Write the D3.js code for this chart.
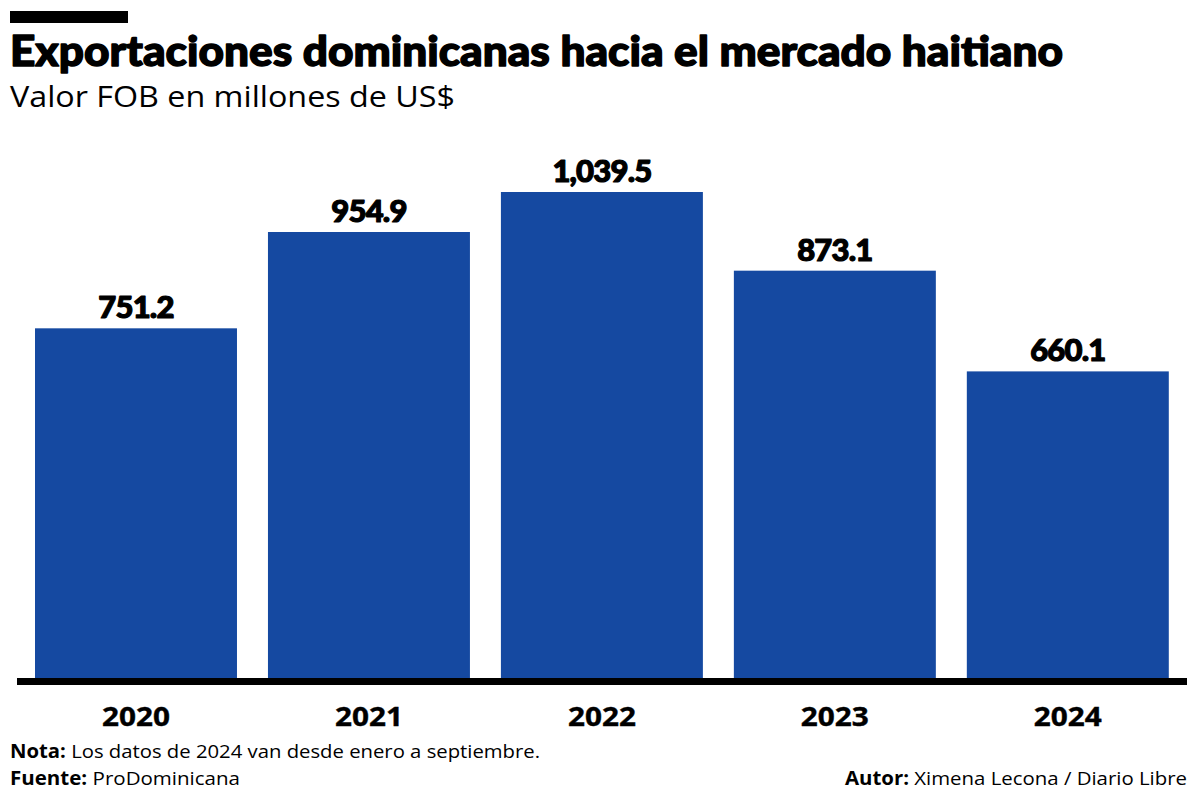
<!DOCTYPE html>
<html>
<head>
<meta charset="utf-8">
<script src="https://cdn.jsdelivr.net/npm/d3@7"></script>
<style>
  html, body { margin: 0; padding: 0; background: #fff; }
  svg { display: block; }
</style>
</head>
<body>
<svg id="chart" width="1200" height="802"></svg>
<script>
const years = ["2020", "2021", "2022", "2023", "2024"];
const values = [751.2, 954.9, 1039.5, 873.1, 660.1];
const valueLabels = ["751.2", "954.9", "1,039.5", "873.1", "660.1"];
const title = "Exportaciones dominicanas hacia el mercado haitiano";
const subtitle = "Valor FOB en millones de US$";

const svg = d3.select("#chart");
const blue = "#1549a1";

// header bar
svg.append("rect").attr("x", 10).attr("y", 11).attr("width", 118).attr("height", 12).attr("fill", "#000");

svg.append("text")
  .attr("x", 10).attr("y", 66)
  .attr("font-family", "Lato, sans-serif").attr("font-weight", 900)
  .attr("font-size", 42).attr("fill", "#000")
  .attr("stroke", "#000").attr("stroke-width", 1.4).attr("stroke-linejoin", "round")
  .attr("textLength", 1053).attr("lengthAdjust", "spacingAndGlyphs")
  .text(title);

svg.append("text")
  .attr("x", 10).attr("y", 107)
  .attr("font-family", "'Open Sans', sans-serif").attr("font-weight", 400)
  .attr("font-size", 30).attr("fill", "#000")
  .attr("textLength", 445).attr("lengthAdjust", "spacingAndGlyphs")
  .text(subtitle);

const x = d3.scaleBand().domain(years).range([19.4, 1184.4]).paddingInner(0.133).paddingOuter(0.067);
const y = d3.scaleLinear().domain([0, 1039.5]).range([683.5, 192]);

svg.append("g").selectAll("rect").data(values).join("rect")
  .attr("x", (d, i) => x(years[i]))
  .attr("width", x.bandwidth())
  .attr("y", d => y(d))
  .attr("height", d => y(0) - y(d))
  .attr("fill", blue);

svg.append("g").selectAll("text").data(values).join("text")
  .attr("x", (d, i) => x(years[i]) + x.bandwidth() / 2)
  .attr("y", d => y(d) - 10)
  .attr("text-anchor", "middle")
  .attr("font-family", "Lato, sans-serif").attr("font-weight", 900)
  .attr("font-size", 31).attr("fill", "#000")
  .attr("stroke", "#000").attr("stroke-width", 1.2).attr("stroke-linejoin", "round")
  .attr("letter-spacing", -0.8)
  .text((d, i) => valueLabels[i]);

// baseline axis
const axis = d3.axisBottom(x).tickSize(0).tickPadding(0);
const gx = svg.append("g").attr("transform", "translate(0,681.5)").call(axis);
gx.select(".domain").remove();
gx.append("line").attr("x1", 17).attr("x2", 1187).attr("y1", 0).attr("y2", 0)
  .attr("stroke", "#000").attr("stroke-width", 7);
gx.selectAll(".tick text")
  .attr("y", 44).attr("dy", 0)
  .attr("font-family", "'Open Sans', sans-serif").attr("font-weight", 700)
  .attr("font-size", 27).attr("fill", "#000")
  .attr("stroke", "#000").attr("stroke-width", 0.4)
  .attr("textLength", 68).attr("lengthAdjust", "spacingAndGlyphs");

// footer
const f1 = svg.append("text").attr("x", 10).attr("y", 758)
  .attr("font-family", "'Open Sans', sans-serif").attr("font-size", 19).attr("fill", "#000")
  .attr("textLength", 530).attr("lengthAdjust", "spacingAndGlyphs");
f1.append("tspan").attr("font-weight", 700).text("Nota:");
f1.append("tspan").text(" Los datos de 2024 van desde enero a septiembre.");

const f2 = svg.append("text").attr("x", 10).attr("y", 785)
  .attr("font-family", "'Open Sans', sans-serif").attr("font-size", 19).attr("fill", "#000")
  .attr("textLength", 230).attr("lengthAdjust", "spacingAndGlyphs");
f2.append("tspan").attr("font-weight", 700).text("Fuente:");
f2.append("tspan").text(" ProDominicana");

const f3 = svg.append("text").attr("x", 845).attr("y", 785)
  .attr("font-family", "'Open Sans', sans-serif").attr("font-size", 19).attr("fill", "#000")
  .attr("textLength", 342).attr("lengthAdjust", "spacingAndGlyphs");
f3.append("tspan").attr("font-weight", 700).text("Autor:");
f3.append("tspan").text(" Ximena Lecona / Diario Libre");
</script>
</body>
</html>
